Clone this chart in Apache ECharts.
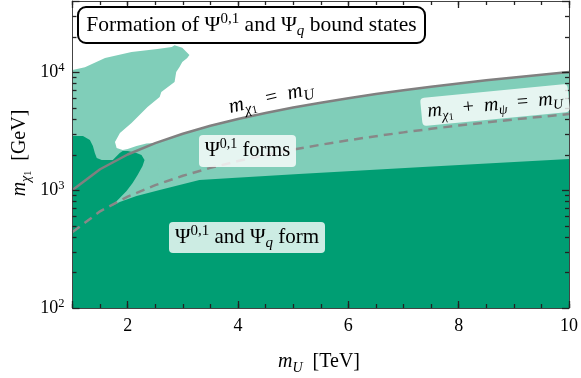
<!DOCTYPE html>
<html><head><meta charset="utf-8">
<script src="https://cdn.jsdelivr.net/npm/echarts@6/dist/echarts.min.js"></script>
<style>html,body{margin:0;padding:0;background:#fff}#c{width:581px;height:378px}</style>
</head><body><div id="c"></div>
<script>
// ---- tick values ----
const yMinorTicks = [200, 300, 400, 500, 600, 700, 800, 900, 2000, 3000, 4000, 5000, 6000, 7000, 8000, 9000, 20000, 30000];

// ---- curves: m_chi1 = m_U  and  m_chi1 + m_psi = m_U  (x in TeV, y in GeV) ----
const lineEqual = [[1,1000],[1.5,1500],[2,2000],[2.5,2500],[3,3000],[3.5,3500],[4,4000],[4.5,4500],[5,5000],[5.5,5500],[6,6000],[6.5,6500],[7,7000],[7.5,7500],[8,8000],[8.5,8500],[9,9000],[9.5,9500],[10,10000]];
const lineSum = [[1,440],[1.5,660],[2,880],[2.5,1100],[3,1320],[3.5,1540],[4,1760],[4.5,1980],[5,2200],[5.5,2420],[6,2640],[6.5,2860],[7,3080],[7.5,3300],[8,3520],[8.5,3740],[9,3960],[9.5,4180],[10,4400]];

// ---- regions ----
const lightPlume = [[1,10400],[1.225,11000],[1.59,13150],[2.07,14760],[2.54,15670],[2.8,16300],[2.85,16900],[2.99,16070],[3.12,13930],[3.08,13150],[2.99,12160],[2.94,11020],[2.88,10000],[2.85,8220],[2.61,6770],[2.58,6140],[2.36,5050],[2.07,3700],[1.86,3040],[1.77,2550],[1.8,2270],[1.91,2180],[2.0,2225],[2.16,2360],[2.34,2480],[2.5,2500],[2.6,1000],[1,1000]];
const lightFloor = [[10,100],[1,100]];
const darkRegion = [[1,2870],[1.19,2870],[1.315,2655],[1.37,2360],[1.405,2060],[1.44,1867],[1.53,1795],[1.73,1795],[1.82,1982],[1.856,2060],[1.91,2143],[2.0,2143],[2.16,2060],[2.25,1982],[2.306,1795],[2.27,1595],[2.18,1340],[2.09,1146],[1.98,981],[1.856,855],[1.712,731],[1.856,791],[2.16,889],[2.58,1000],[3.3,1215],[3.89,1264],[5.1,1367],[7.35,1567],[10,1833],[10,100],[1,100]];

const DARK = '#009E73', LIGHT = '#80CEB9';
const F = 'Liberation Serif';
const X_MIN = 1, X_MAX = 10, Y_MIN = 100, Y_MAX = 40000;
const TICK = '#222';

function richSet(size) {
  const s = Math.round(size * 0.7), ss = Math.round(size * 0.52);
  return {
    r: {fontFamily: F, fontSize: size, lineHeight: size + 6, color: '#000'},
    i: {fontFamily: F, fontSize: size, fontStyle: 'italic', lineHeight: size + 6, color: '#000'},
    sup: {fontFamily: F, fontSize: s, lineHeight: s + 2, verticalAlign: 'top', color: '#000'},
    sub: {fontFamily: F, fontSize: s, fontStyle: 'italic', lineHeight: s + 1, verticalAlign: 'bottom', color: '#000'},
    ss: {fontFamily: F, fontSize: ss, lineHeight: ss, verticalAlign: 'bottom', color: '#000'}
  };
}

function polySeries(points, color, z) {
  return {
    type: 'custom', coordinateSystem: 'cartesian2d', xAxisIndex: 0, yAxisIndex: 0,
    data: [[points[0][0], points[0][1]]], z: z, silent: true, clip: true,
    renderItem: function (params, api) {
      return {type: 'polygon', shape: {points: points.map(p => api.coord(p))}, style: {fill: color, stroke: null}};
    }
  };
}

const axisLineStyle = {show: true, lineStyle: {color: '#444', width: 1}};
const majorTick = {show: true, inside: true, length: 7, lineStyle: {color: TICK, width: 1.3}};
const minorTickX = {show: true, inside: true, length: 4, lineStyle: {color: TICK, width: 1.3}};
const yLabelFmt = v => {
  const e = Math.round(Math.log10(v));
  if (Math.abs(Math.pow(10, e) - v) > 1e-6 * v) return '';
  return '{b|10}{s|' + e + '}';
};
const C = {align: 'center', verticalAlign: 'middle', textAlign: 'center', textVerticalAlign: 'middle'};

const labelElements = [
  {type: 'rect', z: 100, shape: {x: 78, y: 7, width: 347, height: 36, r: 8},
    style: {fill: '#fff', stroke: '#000', lineWidth: 2}},
  {type: 'text', z: 101, x: 251.5, y: 25,
    style: Object.assign({text: '{r|Formation of Ψ}{sup|0,1}{r| and Ψ}{sub|q}{r| bound states}', rich: richSet(21.5)}, C)},
  {type: 'text', z: 101, x: 271, y: 98, rotation: 13 * Math.PI / 180,
    style: Object.assign({text: '{i|m}{sub|χ}{ss|1}{r|  =  }{i|m}{sub|U}', rich: richSet(21)}, C)},
  {type: 'group', x: 495, y: 105, rotation: 5.5 * Math.PI / 180, z: 100, children: [
    {type: 'rect', z: 100, shape: {x: -74, y: -14, width: 148, height: 28, r: 4}, style: {fill: 'rgba(255,255,255,0.8)'}},
    {type: 'text', z: 101, x: 0, y: 0,
      style: Object.assign({text: '{i|m}{sub|χ}{ss|1}{r|  +  }{i|m}{sub|ψ}{r|  =  }{i|m}{sub|U}', rich: richSet(20)}, C)}
  ]},
  {type: 'rect', z: 100, shape: {x: 199, y: 135, width: 97, height: 32, r: 4}, style: {fill: 'rgba(255,255,255,0.8)'}},
  {type: 'text', z: 101, x: 247.5, y: 151,
    style: Object.assign({text: '{r|Ψ}{sup|0,1}{r| forms}', rich: richSet(20.5)}, C)},
  {type: 'rect', z: 100, shape: {x: 169, y: 222, width: 156, height: 31, r: 4}, style: {fill: 'rgba(255,255,255,0.8)'}},
  {type: 'text', z: 101, x: 247, y: 237.5,
    style: Object.assign({text: '{r|Ψ}{sup|0,1}{r| and Ψ}{sub|q}{r| form}', rich: richSet(21)}, C)},
  {type: 'text', z: 101, x: 319, y: 362,
    style: Object.assign({text: '{i|m}{sub|U}{r|  [TeV]}', rich: richSet(20)}, C)},
  {type: 'text', z: 101, x: 20, y: 153, rotation: Math.PI / 2,
    style: Object.assign({text: '{i|m}{sub|χ}{ss|1}{r|  [GeV]}', rich: richSet(20)}, C)}
];

const chart = echarts.init(document.getElementById('c'));
chart.setOption({
  animation: false,
  grid: {left: 72.5, right: 9, top: 1, bottom: 70, containLabel: false},
  xAxis: [
    {type: 'value', position: 'bottom', min: X_MIN, max: X_MAX, splitNumber: 5, z: 20,
      axisLine: axisLineStyle, axisTick: majorTick, splitLine: {show: false},
      axisLabel: {margin: 9, fontFamily: F, fontSize: 18, color: '#000',
        formatter: v => (Math.abs(v % 2) < 1e-9 ? String(v) : '')}},
    {type: 'value', position: 'bottom', min: X_MIN, max: X_MAX, interval: 0.5, z: 20,
      axisLine: {show: false}, axisTick: minorTickX, splitLine: {show: false}, axisLabel: {show: false}},
    {type: 'value', position: 'top', min: X_MIN, max: X_MAX, splitNumber: 5, z: 20,
      axisLine: axisLineStyle, axisTick: majorTick, splitLine: {show: false}, axisLabel: {show: false}},
    {type: 'value', position: 'top', min: X_MIN, max: X_MAX, interval: 0.5, z: 20,
      axisLine: {show: false}, axisTick: minorTickX, splitLine: {show: false}, axisLabel: {show: false}}
  ],
  yAxis: [
    {type: 'log', logBase: 10, position: 'left', min: Y_MIN, max: Y_MAX, z: 20,
      axisLine: axisLineStyle, axisTick: majorTick, splitLine: {show: false}, minorSplitLine: {show: false},
      axisLabel: {margin: 8, formatter: yLabelFmt,
        rich: {b: {fontFamily: F, fontSize: 18, lineHeight: 22, color: '#000'},
               s: {fontFamily: F, fontSize: 12.5, lineHeight: 14, verticalAlign: 'top', color: '#000'}}}},
    {type: 'log', logBase: 10, position: 'right', min: Y_MIN, max: Y_MAX, z: 20,
      axisLine: axisLineStyle, axisTick: majorTick, splitLine: {show: false}, axisLabel: {show: false}}
  ],
  series: [
    polySeries(lineEqual.concat(lightFloor), LIGHT, 1),
    polySeries(lightPlume, LIGHT, 1),
    polySeries(darkRegion, DARK, 2),
    {type: 'line', data: lineEqual, showSymbol: false, z: 5, silent: true, clip: true,
      lineStyle: {color: '#808080', width: 2.5}},
    {type: 'line', data: lineSum, showSymbol: false, z: 5, silent: true, clip: true,
      lineStyle: {color: '#888888', width: 2.5, type: [9, 6]}}
  ],
  graphic: {elements: labelElements}
});

// ---- y minor ticks (2..9 x 10^n) on left and right, placed through the axes' own scale ----
try {
  const toPx = p => chart.convertToPixel({gridIndex: 0}, p);
  const lo = toPx([X_MIN, Y_MIN]), hi = toPx([X_MAX, Y_MAX]);
  const tickEls = [];
  yMinorTicks.forEach(v => {
    const y = Math.round(toPx([X_MIN, v])[1]) + 0.5;
    tickEls.push({type: 'line', z: 60, silent: true, shape: {x1: lo[0], y1: y, x2: lo[0] + 4, y2: y}, style: {stroke: TICK, lineWidth: 1.3}});
    tickEls.push({type: 'line', z: 60, silent: true, shape: {x1: hi[0], y1: y, x2: hi[0] - 4, y2: y}, style: {stroke: TICK, lineWidth: 1.3}});
  });
  chart.setOption({graphic: {elements: labelElements.concat(tickEls)}});
} catch (e) { /* ticks are decorative */ }
</script></body></html>
